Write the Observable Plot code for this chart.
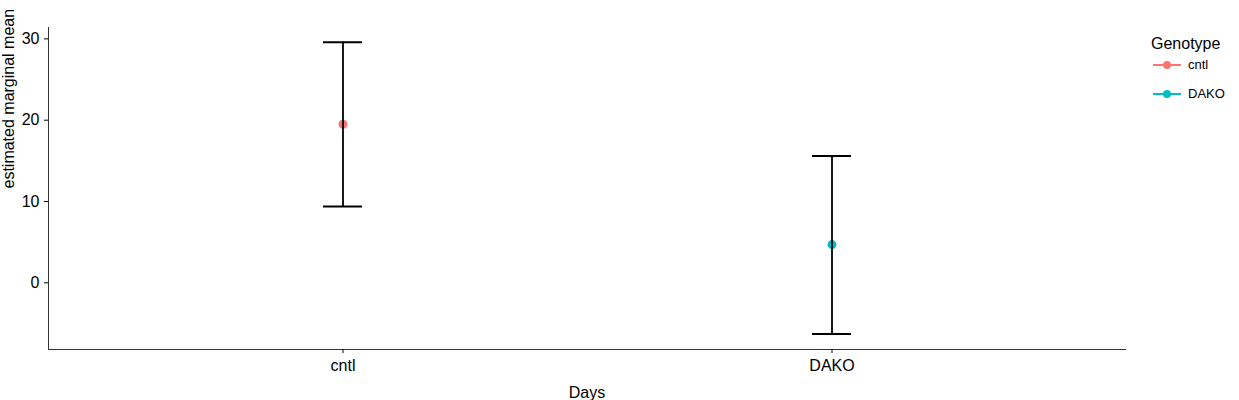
<!DOCTYPE html>
<html><head><meta charset="utf-8">
<script src="https://cdn.jsdelivr.net/npm/d3@7"></script>
<script src="https://cdn.jsdelivr.net/npm/@observablehq/plot@0.6"></script>
<style>
body{margin:0;font-family:"Liberation Sans",Arial,sans-serif;}
#wrap{position:relative;width:1239px;height:400px;}
#legend{position:absolute;left:1151px;top:35px;font-size:16px;}
.item{display:flex;align-items:center;font-size:13px;margin-top:6px;height:23px;}
.item:nth-child(2){margin-top:0;}
.item svg{margin-right:5px;}
</style></head>
<body><div id="wrap"><div id="legend"><div>Genotype</div></div></div>
<script>
const genotypes = ["cntl", "DAKO"];
const means = [19.5, 4.7];
const lower = [9.4, -6.3];
const upper = [29.6, 15.6];
const colors = ["#F8766D", "#00BFC4"];

const rows = genotypes.map((g, i) => ({g, mean: means[i], lo: lower[i], hi: upper[i]}));

const plot = Plot.plot({
  width: 1239, height: 400,
  marginLeft: 48, marginRight: 114, marginTop: 27, marginBottom: 51,
  style: {fontFamily: "Liberation Sans, Arial, sans-serif", fontSize: "16px", color: "#000"},
  x: {type: "band", domain: genotypes, paddingInner: 0.5, paddingOuter: 0.351, label: null},
  y: {domain: [-8.2, 31.4], ticks: [0, 10, 20, 30], label: null},
  color: {domain: genotypes, range: colors},
  marks: [
    Plot.frame({anchor: "left", stroke: "#333"}),
    Plot.frame({anchor: "bottom", stroke: "#333"}),
    Plot.axisY({ticks: [0, 10, 20, 30], tickSize: 4, fontSize: 16, label: null}),
    Plot.axisX({tickSize: 4, fontSize: 16, label: null, tickPadding: 6}),
    Plot.text(["estimated marginal mean"], {frameAnchor: "left", dx: -40, rotate: -90, fontSize: 16}),
    Plot.text(["Days"], {frameAnchor: "bottom", dy: 48, fontSize: 16}),
    Plot.dot(rows, {x: "g", y: "mean", fill: "g", r: 4.5}),
    Plot.ruleX(rows, {x: "g", y1: "lo", y2: "hi", stroke: "black", strokeWidth: 2, strokeOpacity: 0.9}),
    Plot.tickY(rows, {x: "g", y: "lo", stroke: "black", strokeWidth: 2, inset: 103}),
    Plot.tickY(rows, {x: "g", y: "hi", stroke: "black", strokeWidth: 2, inset: 103})
  ]
});
document.getElementById("wrap").prepend(plot);
const leg = document.getElementById("legend");
genotypes.forEach((g, i) => {
  const d = document.createElement("div");
  d.className = "item";
  d.innerHTML = `<svg width="32" height="12"><line x1="2" x2="30" y1="6" y2="6" stroke="${colors[i]}" stroke-width="2"/><circle cx="16" cy="6" r="4" fill="${colors[i]}"/></svg>${g}`;
  leg.appendChild(d);
});
</script></body></html>
